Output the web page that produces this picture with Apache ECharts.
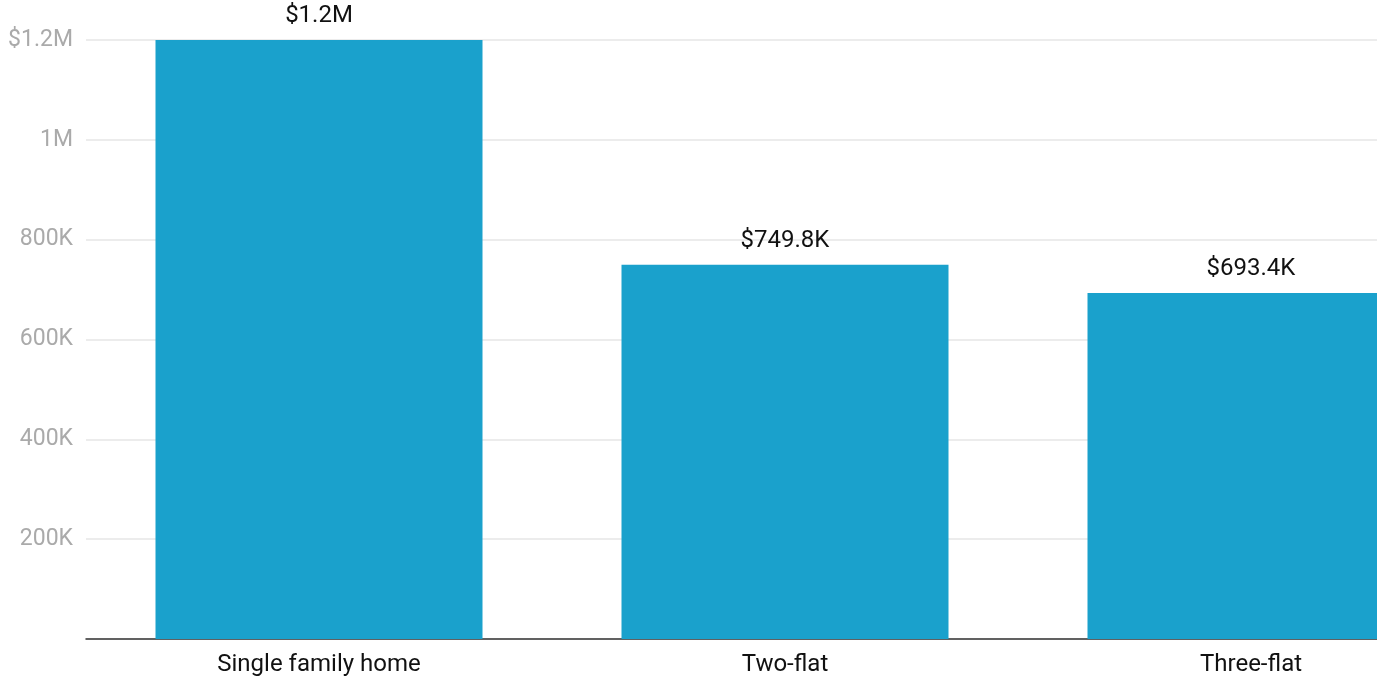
<!DOCTYPE html>
<html><head><meta charset="utf-8">
<script src="https://cdn.jsdelivr.net/npm/echarts@6/dist/echarts.min.js"></script>
<style>html,body{margin:0;padding:0;background:#fff;overflow:hidden;width:1377px;height:679px}#c{width:1484px;height:679px}</style>
</head><body><div id="c"></div>
<script>
const categories = ["Single family home", "Two-flat", "Three-flat"];
const values = [1200000, 749800, 693400];
const valueLabels = ["$1.2M", "$749.8K", "$693.4K"];
const yTicks = {0: "", 200000: "200K", 400000: "400K", 600000: "600K", 800000: "800K", 1000000: "1M", 1200000: "$1.2M"};

const chart = echarts.init(document.getElementById('c'), null, {renderer: 'canvas'});
chart.setOption({
  animation: false,
  textStyle: {fontFamily: 'Roboto'},
  grid: {left: 86, right: 0, top: 40, bottom: 40, containLabel: false},
  xAxis: {
    type: 'category', data: categories,
    axisLine: {lineStyle: {color: '#333', width: 1.5}},
    axisTick: {show: false},
    axisLabel: {color: '#111', fontSize: 24, margin: 14, fontFamily: 'Roboto'}
  },
  yAxis: {
    type: 'value', min: 0, max: 1200000, interval: 200000,
    axisLine: {show: false}, axisTick: {show: false},
    splitLine: {lineStyle: {color: '#e6e6e6', width: 1.5}},
    axisLabel: {color: '#aaa', fontSize: 23, margin: 13, fontFamily: 'Roboto',
      formatter: v => yTicks[v] !== undefined ? yTicks[v] : ''}
  },
  series: [{
    type: 'bar', data: values, barWidth: 327,
    itemStyle: {color: '#1aa1cc'},
    label: {show: true, position: 'top', distance: 12, color: '#111', fontSize: 24, fontFamily: 'Roboto',
      formatter: p => valueLabels[p.dataIndex]}
  }]
});
</script></body></html>
